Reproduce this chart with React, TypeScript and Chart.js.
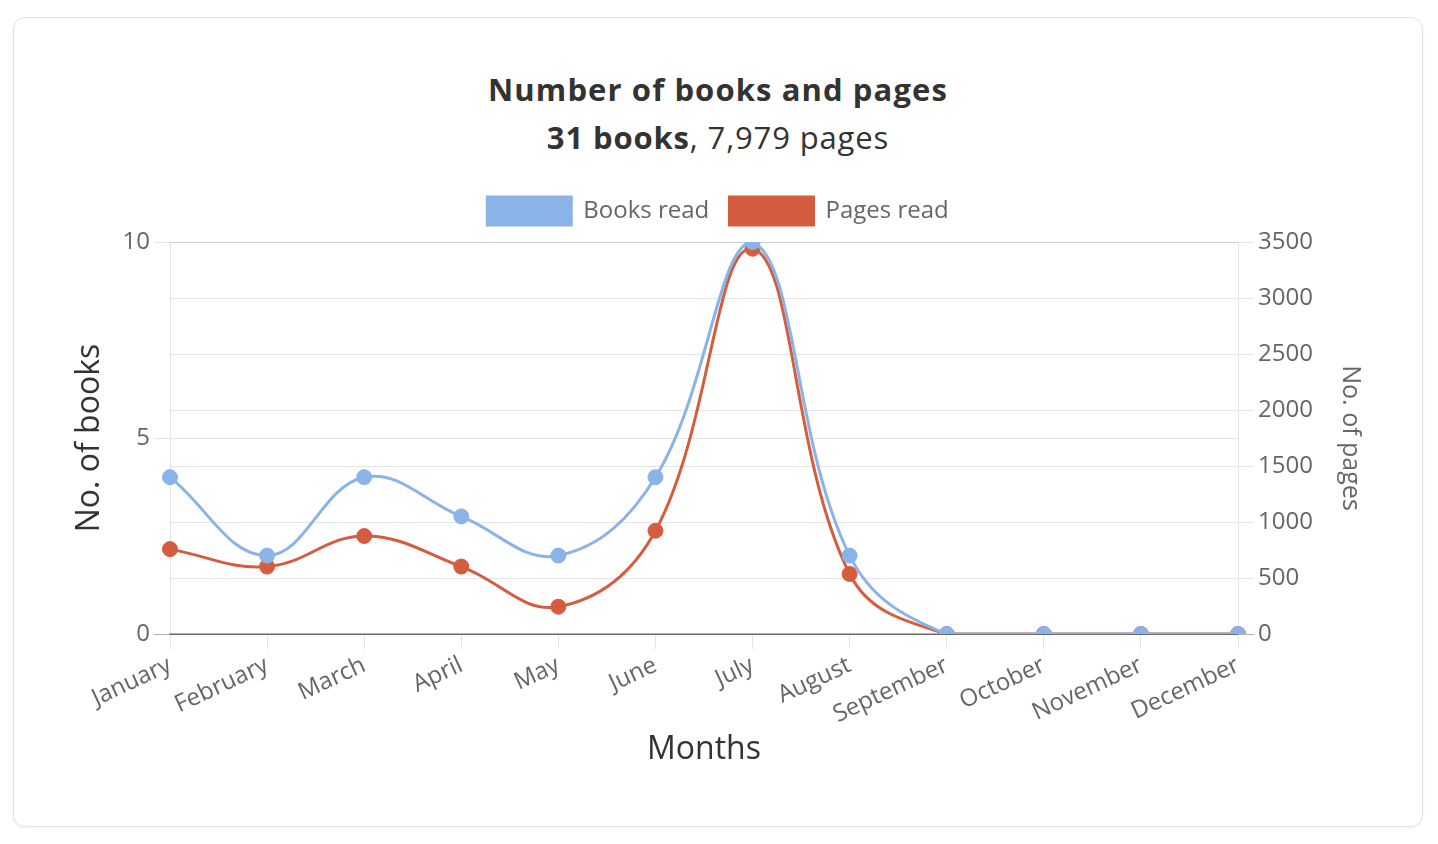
import React, { useEffect, useRef } from "react";
import { Chart, registerables } from "chart.js";

Chart.register(...registerables);

const months = [
  "January", "February", "March", "April", "May", "June",
  "July", "August", "September", "October", "November", "December",
];
const booksRead = [4, 2, 4, 3, 2, 4, 10, 2, 0, 0, 0, 0];
const pagesRead = [758, 602, 875, 602, 244, 922, 3440, 536, 0, 0, 0, 0];
const bookTicks = { min: 0, max: 10, step: 5 };
const pageTicks = { min: 0, max: 3500, step: 500 };

const BLUE = "#8AB4E8";
const RED = "#D55D3F";
const FONT = "'Open Sans', 'Noto Sans', sans-serif";

const gridColor = (ctx: any) =>
  ctx.tick && ctx.tick.value === 0 ? "rgba(0,0,0,0.3)" : "rgba(0,0,0,0.1)";

// adds a little space under the legend without moving its items
const legendGap = {
  id: "legendGap",
  afterInit(chart: any) {
    const legend = chart.legend;
    if (!legend) return;
    const orig = legend.fit.bind(legend);
    legend.fit = function () {
      orig();
      this.height += 7;
    };
  },
};

export default function App() {
  const ref = useRef<HTMLCanvasElement | null>(null);
  const totalBooks = booksRead.reduce((a, b) => a + b, 0);
  const totalPages = pagesRead.reduce((a, b) => a + b, 0);

  useEffect(() => {
    if (!ref.current) return;
    const chart = new Chart(ref.current, {
      type: "line",
      data: {
        labels: months,
        datasets: [
          {
            label: "Books read",
            data: booksRead,
            yAxisID: "yBooks",
            borderColor: BLUE,
            backgroundColor: BLUE,
            pointBackgroundColor: BLUE,
            pointBorderColor: BLUE,
            borderWidth: 3,
            pointRadius: 7.5,
            pointBorderWidth: 1,
            tension: 0.4,
            fill: false,
          },
          {
            label: "Pages read",
            data: pagesRead,
            yAxisID: "yPages",
            borderColor: RED,
            backgroundColor: RED,
            pointBackgroundColor: RED,
            pointBorderColor: RED,
            borderWidth: 3,
            pointRadius: 7.5,
            pointBorderWidth: 1,
            tension: 0.4,
            fill: false,
          },
        ],
      },
      plugins: [legendGap],
      options: {
        animation: false,
        responsive: true,
        maintainAspectRatio: false,
        layout: { padding: { top: 0, left: 0, right: 0, bottom: 0 } },
        plugins: {
          legend: {
            position: "top",
            labels: {
              boxWidth: 84,
              boxHeight: 28,
              padding: 14,
              color: "#666",
              font: { family: FONT, size: 24 },
              generateLabels: (c: any) => {
                const items = Chart.defaults.plugins.legend.labels.generateLabels(c);
                if (items.length > 0) items[0].text = items[0].text + " ";
                return items;
              },
            },
          },
          tooltip: { enabled: false },
        },
        scales: {
          x: {
            offset: false,
            grid: {
              drawOnChartArea: false,
              drawTicks: true,
              tickLength: 15,
              color: "rgba(0,0,0,0.1)",
            },
            border: { display: true, color: "rgba(0,0,0,0.3)", width: 1.5 },
            ticks: {
              autoSkip: false,
              minRotation: 25,
              maxRotation: 25,
              padding: 2,
              color: "#666",
              font: { family: FONT, size: 24 },
            },
            title: {
              display: true,
              text: "Months",
              color: "#333",
              font: { family: FONT, size: 32 },
              padding: { top: 0, bottom: 57 },
            },
            afterFit: (s: any) => {
              s.height = 192;
            },
          },
          yBooks: {
            type: "linear",
            position: "left",
            min: bookTicks.min,
            max: bookTicks.max,
            ticks: {
              stepSize: bookTicks.step,
              padding: 4,
              color: "#666",
              font: { family: FONT, size: 24 },
            },
            grid: { color: gridColor, tickLength: 16 },
            border: { display: true, color: "rgba(0,0,0,0.1)" },
            title: {
              display: true,
              text: "No. of books",
              color: "#333",
              font: { family: FONT, size: 32 },
              padding: { top: 57, bottom: 0 },
            },
            afterFit: (s: any) => {
              s.width = 156;
            },
          },
          yPages: {
            type: "linear",
            position: "right",
            min: pageTicks.min,
            max: pageTicks.max,
            ticks: {
              stepSize: pageTicks.step,
              padding: 4,
              color: "#666",
              font: { family: FONT, size: 24 },
              callback: (v: any) => String(v),
            },
            grid: { color: gridColor, tickLength: 16, drawOnChartArea: true },
            border: { display: true, color: "rgba(0,0,0,0.1)" },
            title: {
              display: true,
              text: "No. of pages",
              color: "#666",
              font: { family: FONT, size: 25 },
              padding: { top: 57, bottom: 0 },
            },
            afterFit: (s: any) => {
              s.width = 184;
            },
          },
        },
      },
    });
    return () => chart.destroy();
  }, []);

  return (
    <div
      style={{
        position: "absolute",
        left: 13,
        top: 17,
        width: 1410,
        height: 810,
        boxSizing: "border-box",
        border: "1px solid #e4e4e4",
        borderRadius: 12,
        boxShadow: "0 1px 3px rgba(0,0,0,0.06)",
        background: "#fff",
        fontFamily: FONT,
      }}
    >
      <div
        style={{
          position: "absolute",
          left: 0,
          right: 0,
          top: 51,
          textAlign: "center",
          fontSize: 31,
          lineHeight: "40px",
          fontWeight: 700,
          letterSpacing: "1.1px",
          color: "#333",
        }}
      >
        Number of books and pages
      </div>
      <div
        style={{
          position: "absolute",
          left: 0,
          right: 0,
          top: 99,
          textAlign: "center",
          fontSize: 31,
          lineHeight: "40px",
          letterSpacing: "0.85px",
          color: "#333",
        }}
      >
        <b>{totalBooks} books</b>, {totalPages.toLocaleString("en-US")} pages
      </div>
      <div
        style={{
          position: "absolute",
          left: 0,
          top: 165,
          width: 1408,
          height: 643,
        }}
      >
        <canvas ref={ref} />
      </div>
    </div>
  );
}
